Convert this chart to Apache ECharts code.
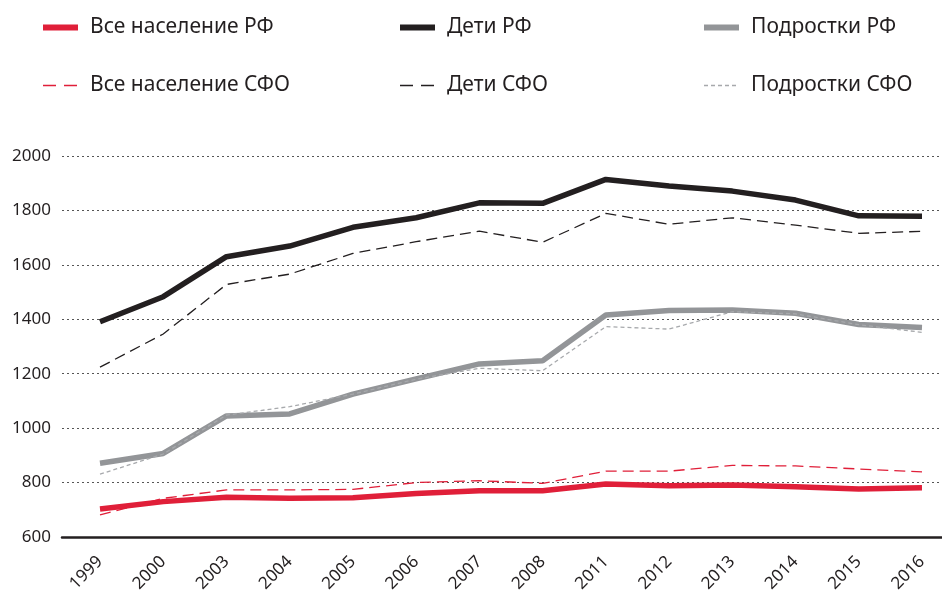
<!DOCTYPE html>
<html>
<head>
<meta charset="utf-8">
<script src="https://cdn.jsdelivr.net/npm/echarts@6/dist/echarts.min.js"></script>
<style>
  html, body { margin: 0; padding: 0; background: #fff; }
  #chart { width: 942px; height: 601px; }
</style>
</head>
<body>
<div id="chart"></div>
<script>
const years = ['1999', '2000', '2003', '2004', '2005', '2006', '2007', '2008', '2011', '2012', '2013', '2014', '2015', '2016'];

const allRF = [703, 730, 746, 742, 744, 760, 770, 770, 795, 788, 791, 785, 776, 781];
const kidsRF = [1391, 1483, 1630, 1669, 1738, 1773, 1828, 1826, 1914, 1890, 1871, 1838, 1780, 1779];
const teensRF = [871, 907, 1045, 1052, 1125, 1181, 1236, 1248, 1416, 1432, 1434, 1422, 1381, 1370];
const allSFO = [681, 742, 773, 773, 775, 800, 807, 797, 842, 842, 863, 861, 850, 839];
const kidsSFO = [1224, 1346, 1528, 1566, 1642, 1685, 1724, 1683, 1789, 1749, 1773, 1746, 1716, 1723];
const teensSFO = [831, 905, 1048, 1079, 1125, 1180, 1220, 1211, 1373, 1364, 1428, 1420, 1380, 1352];

const yTicks = { min: 600, max: 2000, step: 200 };

const RED = '#e01f39';
const BLACK = '#231f20';
const GRAY = '#939598';
const LIGHTGRAY = '#a7a9ac';
const FONT = 'Noto Sans';

const chart = echarts.init(document.getElementById('chart'));

function line(name, data, color, width, dash) {
  return {
    name: name,
    type: 'line',
    xAxisIndex: 1,
    yAxisIndex: 1,
    data: data,
    symbol: 'none',
    lineStyle: { color: color, width: width, type: dash || 'solid', cap: 'butt' },
    itemStyle: { color: color },
    animation: false
  };
}

// one column of the legend: solid (РФ) on top, dashed (СФО) below
function legendCol(left, solid, dashed, dash) {
  return {
    left: left,
    top: 12,
    orient: 'vertical',
    itemWidth: 35,
    itemHeight: 22,
    itemGap: 37,
    selectedMode: false,
    data: [
      { name: solid, lineStyle: { width: 6, type: 'solid' } },
      { name: dashed, lineStyle: { width: 1.5, type: dash } }
    ],
    itemStyle: { opacity: 0 },
    textStyle: { fontFamily: FONT, fontSize: 21, color: '#231f20', padding: [0, 0, 0, 7] }
  };
}

const option = {
  backgroundColor: '#fff',
  legend: [
    legendCol(35, 'Все население РФ', 'Все население СФО', [13, 8]),
    legendCol(392, 'Дети РФ', 'Дети СФО', [13, 8]),
    legendCol(696, 'Подростки РФ', 'Подростки СФО', [4, 3])
  ],
  grid: [
    { left: 62, right: 0, top: 156, bottom: 64 },
    { left: 100, right: 20, top: 156, bottom: 64 }
  ],
  xAxis: [
    {
      gridIndex: 0, type: 'value', min: 0, max: 1,
      axisLine: { show: true, lineStyle: { color: BLACK, width: 2.5 } },
      axisTick: { show: false }, axisLabel: { show: false }, splitLine: { show: false }
    },
    {
      gridIndex: 1, type: 'category', data: years, boundaryGap: false,
      axisLine: { show: false }, axisTick: { show: false },
      axisLabel: { rotate: 45, margin: 22, fontFamily: FONT, fontSize: 17, color: '#231f20' }
    }
  ],
  yAxis: [
    {
      gridIndex: 0, type: 'value', min: yTicks.min, max: yTicks.max, interval: yTicks.step,
      axisLine: { show: false }, axisTick: { show: false },
      axisLabel: { margin: 11, fontFamily: FONT, fontSize: 17, color: '#231f20', formatter: v => String(v) },
      splitLine: { show: true, lineStyle: { color: '#555', width: 1, type: [2, 3] } }
    },
    {
      gridIndex: 1, type: 'value', min: yTicks.min, max: yTicks.max, interval: yTicks.step,
      show: false
    }
  ],
  series: [
    line('Все население РФ', allRF, RED, 5.5),
    line('Все население СФО', allSFO, RED, 1.3, [11, 6]),
    line('Дети РФ', kidsRF, BLACK, 5.5),
    line('Дети СФО', kidsSFO, BLACK, 1.3, [11, 6]),
    line('Подростки РФ', teensRF, GRAY, 5.5),
    line('Подростки СФО', teensSFO, LIGHTGRAY, 1.3, [4, 3])
  ]
};

chart.setOption(option);
</script>
</body>
</html>
